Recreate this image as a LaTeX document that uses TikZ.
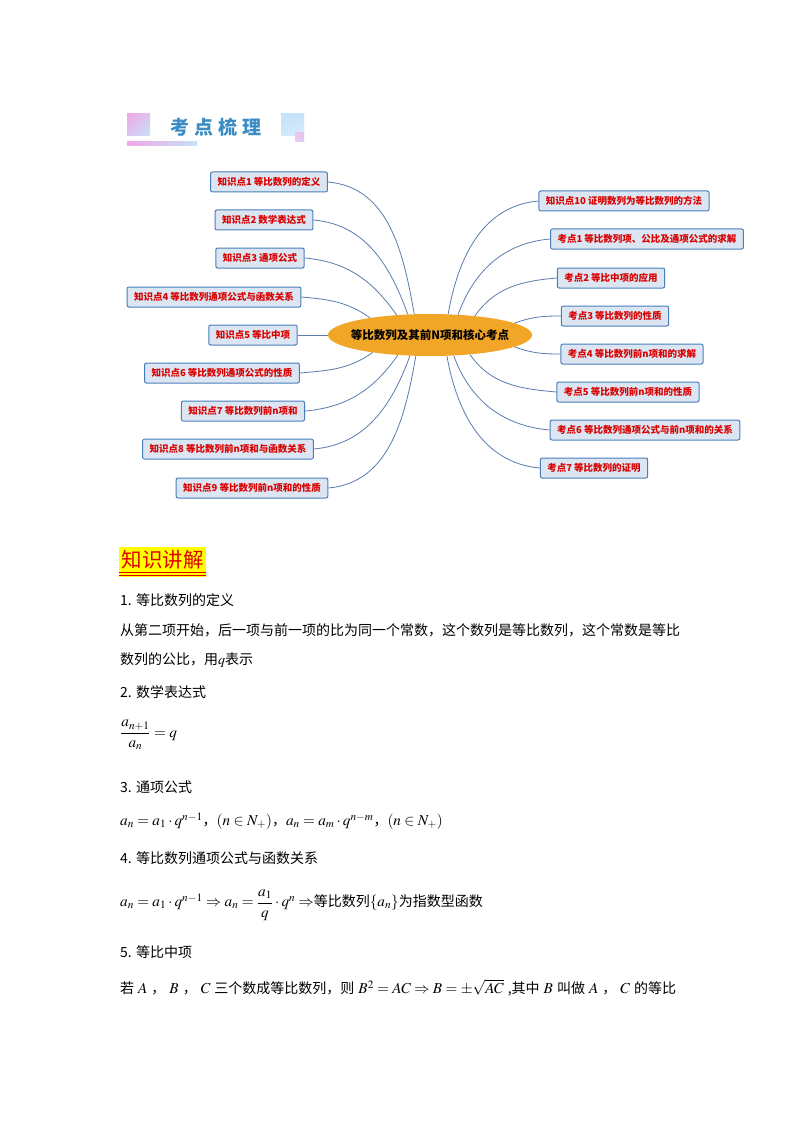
\RequirePackage{fix-cm}
\documentclass[tikz,border=0pt]{standalone}
\usepackage{amsmath,amssymb}
\usepackage{mathptmx}
\usepackage{fontspec}
\setmainfont{Liberation Serif}
\newfontfamily\cjk{Noto Sans CJK SC}
\usetikzlibrary{shapes.geometric,shadings}
\definecolor{boxfill}{HTML}{DCE6F2}
\definecolor{boxdraw}{HTML}{4A7EBB}
\definecolor{boxtext}{HTML}{D90000}
\definecolor{conncol}{HTML}{5A7CAD}
\definecolor{centerfill}{HTML}{F2A628}
\definecolor{headblue}{HTML}{3C8DC5}
\definecolor{pinkc}{HTML}{F0A8E6}
\definecolor{bluec}{HTML}{C4E2F8}
\definecolor{hlyellow}{HTML}{FFFF00}
\definecolor{hlred}{HTML}{E00000}
\tikzset{
  kbox/.style={draw=boxdraw, fill=boxfill, line width=1pt, rounded corners=2pt,
    minimum height=20pt, inner xsep=7pt, inner ysep=0pt,
    text=boxtext, font=\cjk\bfseries\fontsize{9.5}{11}\selectfont},
  conn/.style={draw=conncol, line width=0.8pt},
  body/.style={anchor=west, inner sep=0pt, font=\cjk\fontsize{14}{16}\selectfont},
  mathline/.style={anchor=west, inner sep=0pt, font=\cjk\fontsize{15.2}{17}\selectfont}
}
\newcommand{\gp}{\hspace{4pt}}
\newcommand{\zh}[1]{{\fontsize{14}{16}\selectfont #1}}
\begin{document}
\begin{tikzpicture}[x=1pt,y=1pt]
\useasboundingbox (0,0) rectangle (794,-1123);
\fill[white] (0,0) rectangle (794,-1123);

% header decoration
\shade[upper left=pinkc, lower right=bluec, upper right=pinkc!50!bluec, lower left=pinkc!50!bluec] (127,-114) rectangle (150,-136);
\shade[upper left=bluec, lower right=bluec!60!white, upper right=bluec, lower left=bluec!80!white] (281,-114) rectangle (304,-136);
\shade[upper left=pinkc!70!white, lower right=pinkc!30!bluec, upper right=pinkc!50!bluec, lower left=pinkc!60!white] (295,-133) rectangle (304,-142);
\shade[left color=pinkc, right color=bluec] (127,-142) rectangle (197,-146);
\node[text=headblue, font=\cjk\bfseries\fontsize{19}{22}\selectfont, inner sep=0pt] (hd) at (216,-127) {考\kern5pt 点\kern5pt 梳\kern5pt 理};

% center
\node[ellipse, fill=centerfill, minimum width=204pt, minimum height=42pt, inner sep=0pt,
  font=\cjk\bfseries\fontsize{11.5}{13}\selectfont] (c) at (430,-335) {\makebox[0pt]{等比数列及其前N项和核心考点}};

% left boxes
\node[kbox] (k1) at (269,-182) {知识点1 等比数列的定义};
\node[kbox] (k2) at (264,-220) {知识点2 数学表达式};
\node[kbox] (k3) at (260,-258) {知识点3 通项公式};
\node[kbox] (k4) at (214,-297) {知识点4 等比数列通项公式与函数关系};
\node[kbox] (k5) at (253,-335) {知识点5 等比中项};
\node[kbox] (k6) at (222,-373) {知识点6 等比数列通项公式的性质};
\node[kbox] (k7) at (243,-411) {知识点7 等比数列前n项和};
\node[kbox] (k8) at (228,-449) {知识点8 等比数列前n项和与函数关系};
\node[kbox] (k9) at (252,-488) {知识点9 等比数列前n项和的性质};

% right boxes
\node[kbox] (k10) at (624,-201) {知识点10 证明数列为等比数列的方法};
\node[kbox] (t1) at (647,-239) {考点1 等比数列项、公比及通项公式的求解};
\node[kbox] (t2) at (611,-278) {考点2 等比中项的应用};
\node[kbox] (t3) at (615,-316) {考点3 等比数列的性质};
\node[kbox] (t4) at (632,-354) {考点4 等比数列前n项和的求解};
\node[kbox] (t5) at (628,-392) {考点5 等比数列前n项和的性质};
\node[kbox] (t6) at (645,-430) {考点6 等比数列通项公式与前n项和的关系};
\node[kbox] (t7) at (594,-468) {考点7 等比数列的证明};

% connectors left
\draw[conn] (k1.east) to[out=-5,in=100] (c.127);
\draw[conn] (k2.east) to[out=-5,in=110] (c.137);
\draw[conn] (k3.east) to[out=-5,in=125] (c.149);
\draw[conn] (k4.east) to[out=-5,in=145] (c.164);
\draw[conn] (k5.east) -- (c.180);
\draw[conn] (k6.east) to[out=5,in=-145] (c.197);
\draw[conn] (k7.east) to[out=5,in=-125] (c.212);
\draw[conn] (k8.east) to[out=5,in=-110] (c.226);
\draw[conn] (k9.east) to[out=5,in=-100] (c.236);
% connectors right
\draw[conn] (k10.west) to[out=185,in=80] (c.49);
\draw[conn] (t1.west) to[out=185,in=70] (c.36);
\draw[conn] (t2.west) to[out=185,in=55] (c.23);
\draw[conn] (t3.west) to[out=180,in=20] (c.8);
\draw[conn] (t4.west) to[out=180,in=-20] (c.-8);
\draw[conn] (t5.west) to[out=175,in=-55] (c.-26);
\draw[conn] (t6.west) to[out=175,in=-70] (c.-41);
\draw[conn] (t7.west) to[out=175,in=-80] (c.-51);

% 知识讲解 heading
\fill[hlyellow] (119,-547) rectangle (206,-577);
\node[text=hlred, font=\cjk\fontsize{20.5}{22}\selectfont, inner sep=0pt] (zs) at (162.5,-560) {知识讲解};
\draw[hlred, line width=0.8pt] (119,-572.5) -- (206,-572.5);
\draw[hlred, line width=0.8pt] (119,-575.5) -- (206,-575.5);

% body
\node[body] (l1) at (120,-600) {1. 等比数列的定义};
\node[body] (l2) at (120,-630) {从第二项开始，后一项与前一项的比为同一个常数，这个数列是等比数列，这个常数是等比};
\node[body] (l3) at (120,-660) {数列的公比，用$q$表示};
\node[body] (l4) at (120,-692) {2. 数学表达式};
\node[mathline] (f2) at (120,-735) {$\dfrac{a_{n+1}}{a_n}=q$};
\node[body] (l5) at (120,-787) {3. 通项公式};
\node[mathline] (f3) at (120,-821) {$a_n=a_1\cdot q^{n-1}$\zh{，}$\left(n\in N_+\right)$\zh{，}$a_n=a_m\cdot q^{n-m}$\zh{，}$\left(n\in N_+\right)$};
\node[body] (l6) at (120,-858) {4. 等比数列通项公式与函数关系};
\node[mathline] (f4) at (120,-905) {$a_n=a_1\cdot q^{n-1}\Rightarrow a_n=\dfrac{a_1}{q}\cdot q^n\Rightarrow$\zh{等比数列}$\{a_n\}$\zh{为指数型函数}};
\node[body] (l7) at (120,-952) {5. 等比中项};
\node[mathline] (l8) at (120,-988) {\zh{若}\gp$A$\gp\zh{，}\gp$B$\gp\zh{，}\gp$C$\gp\zh{三个数成等比数列，则}\gp$B^2=AC\Rightarrow B=\pm\sqrt{AC}$\gp\zh{,其中}\gp$B$\gp\zh{叫做}\gp$A$\gp\zh{，}\gp$C$\gp\zh{的等比}};
\end{tikzpicture}
\end{document}
